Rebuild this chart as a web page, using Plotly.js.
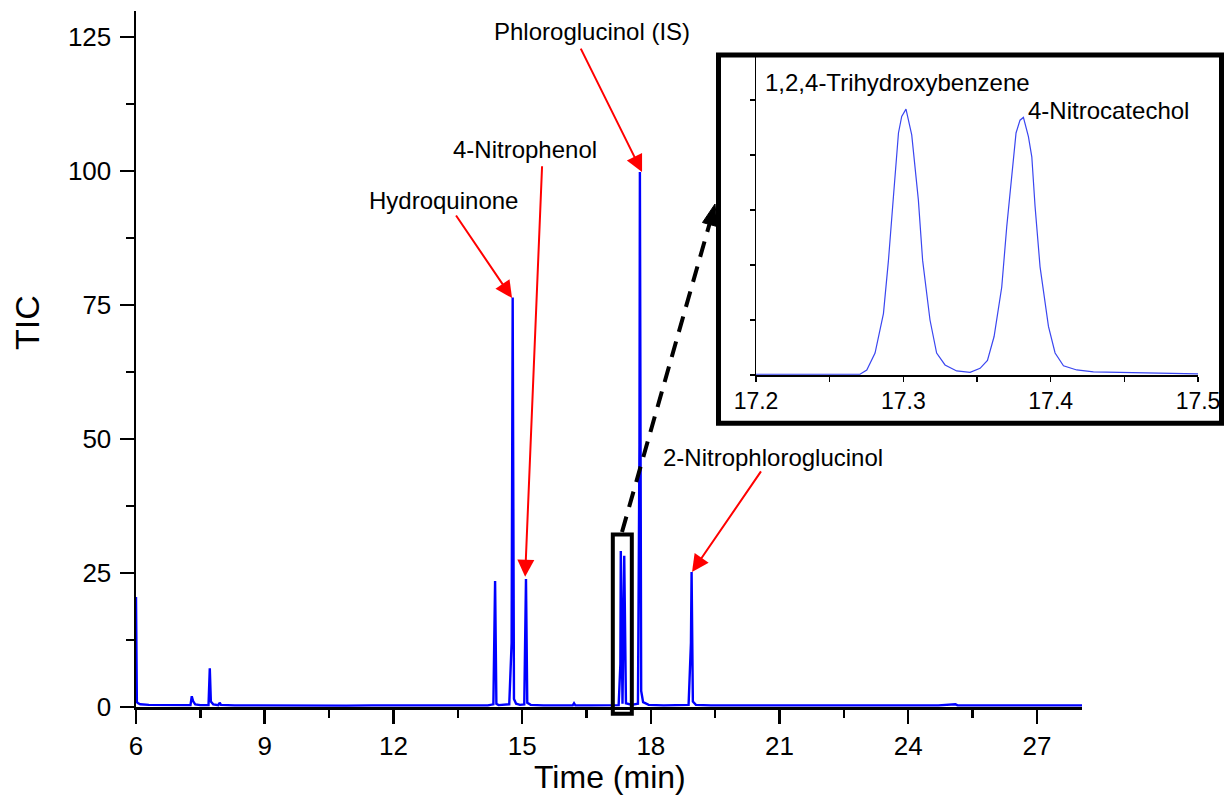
<!DOCTYPE html>
<html>
<head>
<meta charset="utf-8">
<script src="https://cdn.plot.ly/plotly-3.0.1.min.js"></script>
<style>html,body{margin:0;padding:0;background:#fff;}#chart{width:1224px;height:796px;}</style>
</head>
<body>
<div id="chart"></div>
<script>
// ---- Main chromatogram (Time in min, TIC) ----
const mainTime = [6.00, 6.005, 6.02, 6.05, 6.10, 6.30, 6.70, 7.00, 7.27, 7.30, 7.33, 7.38, 7.50, 7.69, 7.72, 7.745, 7.80, 7.92, 7.95, 7.98, 8.30, 8.80, 9.50, 10.20, 10.90, 11.50, 12.30, 13.00, 13.60, 14.20, 14.33, 14.37, 14.40, 14.45, 14.70, 14.755, 14.78, 14.81, 14.86, 14.95, 15.05, 15.09, 15.12, 15.20, 15.50, 16.00, 16.18, 16.21, 16.24, 16.60, 17.00, 17.25, 17.29, 17.30, 17.34, 17.38, 17.42, 17.55, 17.70, 17.735, 17.745, 17.775, 17.82, 17.95, 18.30, 18.88, 18.935, 18.95, 18.98, 19.05, 19.40, 20.00, 20.80, 21.50, 22.10, 22.60, 23.20, 24.00, 24.70, 25.10, 25.15, 25.60, 26.30, 27.00, 27.60, 28.05];
const mainTIC  = [20.5, 3.0, 0.9, 0.7, 0.5, 0.4, 0.35, 0.3, 0.35, 2.0, 1.1, 0.5, 0.35, 0.35, 7.2, 1.0, 0.5, 0.35, 0.8, 0.4, 0.3, 0.3, 0.25, 0.3, 0.25, 0.3, 0.25, 0.3, 0.3, 0.3, 0.5, 23.5, 0.6, 0.35, 0.5, 12.0, 76.4, 1.5, 0.6, 0.4, 0.5, 23.9, 0.8, 0.4, 0.3, 0.3, 0.3, 0.7, 0.3, 0.3, 0.3, 0.35, 8.0, 29.1, 0.6, 28.2, 0.7, 0.4, 0.6, 49.0, 99.8, 3.0, 0.9, 0.4, 0.3, 0.4, 12.0, 25.2, 1.0, 0.4, 0.3, 0.3, 0.3, 0.35, 0.3, 0.35, 0.3, 0.3, 0.3, 0.5, 0.3, 0.3, 0.3, 0.3, 0.3, 0.3];

// ---- Inset: 17.2 - 17.5 min ----
const insetTime = [17.200, 17.230, 17.260, 17.2706, 17.2752, 17.2808, 17.2865, 17.2899, 17.2933, 17.2967, 17.2989, 17.3018, 17.3057, 17.3102, 17.3131, 17.3181, 17.3226, 17.3283, 17.3362, 17.3453, 17.3521, 17.3571, 17.3616, 17.3668, 17.3702, 17.3736, 17.3765, 17.3792, 17.3815, 17.3849, 17.3872, 17.3894, 17.3928, 17.3985, 17.4030, 17.4087, 17.4177, 17.4290, 17.4500, 17.4675, 17.4850, 17.5003];
const insetTIC  = [0.08, 0.08, 0.08, 0.08, 0.55, 2.4, 6.7, 12.5, 19.5, 26.4, 28.2, 29.0, 26.2, 19.1, 12.5, 6.0, 2.4, 1.1, 0.44, 0.29, 0.73, 1.6, 4.2, 9.6, 16.2, 21.3, 26.4, 27.8, 28.1, 26.0, 23.8, 18.4, 11.8, 5.3, 2.4, 1.0, 0.55, 0.33, 0.25, 0.2, 0.15, 0.12];

// ---- Labels ----
const xTitle = "Time (min)";
const yTitle = "TIC";
const peakNames = ["Hydroquinone", "4-Nitrophenol", "Phloroglucinol (IS)", "2-Nitrophloroglucinol"];
const peakTimes = [14.765, 15.07, 17.795, 18.96];
const peakTops  = [76.3, 24.3, 99.8, 25.2];
const insetNames = ["1,2,4-Trihydroxybenzene", "4-Nitrocatechol"];

// pixel -> paper helpers (plot area: left 136, top 11, width 1068, height 696)
const PX = x => (x - 136) / 1068;
const PY = y => (707 - y) / 696;
const FONT = "Liberation Sans, Arial, sans-serif";

const traces = [
  {x: mainTime, y: mainTIC, type: 'scatter', mode: 'lines', xaxis: 'x', yaxis: 'y',
   line: {color: '#0000ff', width: 2.4}, hoverinfo: 'skip'},
  {x: insetTime, y: insetTIC, type: 'scatter', mode: 'lines', xaxis: 'x2', yaxis: 'y2',
   line: {color: '#3a46f0', width: 1.2}, hoverinfo: 'skip'}
];

// label positions (pixel centers) and arrow tails (pixel)
const labelPos = [[443, 200], [525, 150], [592, 32], [773, 457]];
const arrowTail = [[455, 214], [542, 165], [580, 47], [762, 470]];
const arrowTipPx = [[512, 298], [525, 577], [642, 172], [692, 572]];

const annotations = [];
peakNames.forEach((n, i) => {
  annotations.push({text: n, xref: 'paper', yref: 'paper', x: PX(labelPos[i][0]), y: PY(labelPos[i][1]),
    xanchor: 'center', yanchor: 'middle', showarrow: false, font: {family: FONT, size: 24, color: '#000'}});
  annotations.push({text: '', xref: 'x', yref: 'y', x: peakTimes[i], y: peakTops[i],
    ax: arrowTail[i][0] - arrowTipPx[i][0], ay: arrowTail[i][1] - arrowTipPx[i][1],
    showarrow: true, arrowcolor: '#ff0000', arrowwidth: 2, arrowhead: 2, arrowsize: 1.7, standoff: 0});
});
annotations.push({text: insetNames[0], xref: 'paper', yref: 'paper', x: PX(763), y: PY(83),
  xanchor: 'left', yanchor: 'middle', showarrow: false, font: {family: FONT, size: 24, color: '#000'}});
annotations.push({text: insetNames[1], xref: 'paper', yref: 'paper', x: PX(1026), y: PY(110),
  xanchor: 'left', yanchor: 'middle', showarrow: false, font: {family: FONT, size: 24, color: '#000'}});
annotations.push({text: yTitle, xref: 'paper', yref: 'paper', x: PX(27), y: PY(323), textangle: -90,
  xanchor: 'center', yanchor: 'middle', showarrow: false, font: {family: FONT, size: 34, color: '#000'}});
annotations.push({text: xTitle, xref: 'paper', yref: 'paper', x: PX(610), y: PY(777),
  xanchor: 'center', yanchor: 'middle', showarrow: false, font: {family: FONT, size: 32, color: '#000'}});

const shapes = [
  // inset frame
  {type: 'rect', xref: 'paper', yref: 'paper', x0: PX(718.5), x1: PX(1221.5), y0: PY(423.3), y1: PY(55),
   line: {color: '#000', width: 5}, fillcolor: 'rgba(0,0,0,0)'},
  // zoom region box on main chart
  {type: 'rect', xref: 'x', yref: 'paper', x0: 17.114, x1: 17.557, y0: PY(713.8), y1: PY(534.5),
   line: {color: '#000', width: 4}, fillcolor: 'rgba(0,0,0,0)'},
  // dashed connector
  {type: 'line', xref: 'paper', yref: 'paper', x0: PX(622), y0: PY(532), x1: PX(709.5), y1: PY(224),
   line: {color: '#000', width: 4, dash: '16px,10px'}},
  // arrow head
  {type: 'path', xref: 'paper', yref: 'paper',
   path: `M ${PX(715)} ${PY(204)} L ${PX(717)} ${PY(226.5)} L ${PX(702.5)} ${PY(222.5)} Z`,
   fillcolor: '#000', line: {color: '#000', width: 1}}
];

const layout = {
  width: 1224, height: 796,
  margin: {l: 136, r: 20, t: 11, b: 89},
  paper_bgcolor: '#fff', plot_bgcolor: 'rgba(0,0,0,0)',
  showlegend: false,
  font: {family: FONT, color: '#000'},
  xaxis: {domain: [0, PX(1082)], range: [6, 28.05], tickmode: 'linear', tick0: 6, dtick: 3,
    ticks: 'outside', ticklen: 14, tickwidth: 2.5, tickcolor: '#000',
    minor: {ticks: 'outside', ticklen: 8, tickwidth: 2.5, tickcolor: '#000', dtick: 1.5, tick0: 6, showgrid: false},
    showline: true, linewidth: 2.5, linecolor: '#000', showgrid: false, zeroline: false,
    tickfont: {family: FONT, size: 26, color: '#000'}, anchor: 'y'},
  yaxis: {domain: [0, 1], range: [0, 129.85], tickmode: 'linear', tick0: 0, dtick: 25,
    ticks: 'outside', ticklen: 14, tickwidth: 2.5, tickcolor: '#000', ticklabelstandoff: 3,
    minor: {ticks: 'outside', ticklen: 8, tickwidth: 2.5, tickcolor: '#000', dtick: 12.5, tick0: 0, showgrid: false},
    showline: true, linewidth: 2.5, linecolor: '#000', showgrid: false, zeroline: false,
    tickfont: {family: FONT, size: 26, color: '#000'}, anchor: 'x'},
  xaxis2: {domain: [PX(756), PX(1198)], range: [17.2, 17.5], tickmode: 'linear', tick0: 17.2, dtick: 0.1,
    tickformat: '.1f',
    ticks: 'outside', ticklen: 5, tickwidth: 1.2, tickcolor: '#000',
    minor: {ticks: 'outside', ticklen: 5, tickwidth: 1.2, tickcolor: '#000', dtick: 0.05, tick0: 17.2, showgrid: false},
    showline: true, linewidth: 1.5, linecolor: '#000', showgrid: false, zeroline: false,
    tickfont: {family: FONT, size: 23, color: '#000'}, anchor: 'y2'},
  yaxis2: {domain: [PY(375), PY(57)], range: [0, 34.69], tickmode: 'linear', tick0: 0, dtick: 6,
    ticks: 'outside', ticklen: 5, tickwidth: 1.2, tickcolor: '#000', showticklabels: false,
    showline: true, linewidth: 1.5, linecolor: '#000', showgrid: false, zeroline: false, anchor: 'x2'},
  annotations: annotations,
  shapes: shapes
};

Plotly.newPlot('chart', traces, layout, {displayModeBar: false, staticPlot: true});
</script>
</body>
</html>
